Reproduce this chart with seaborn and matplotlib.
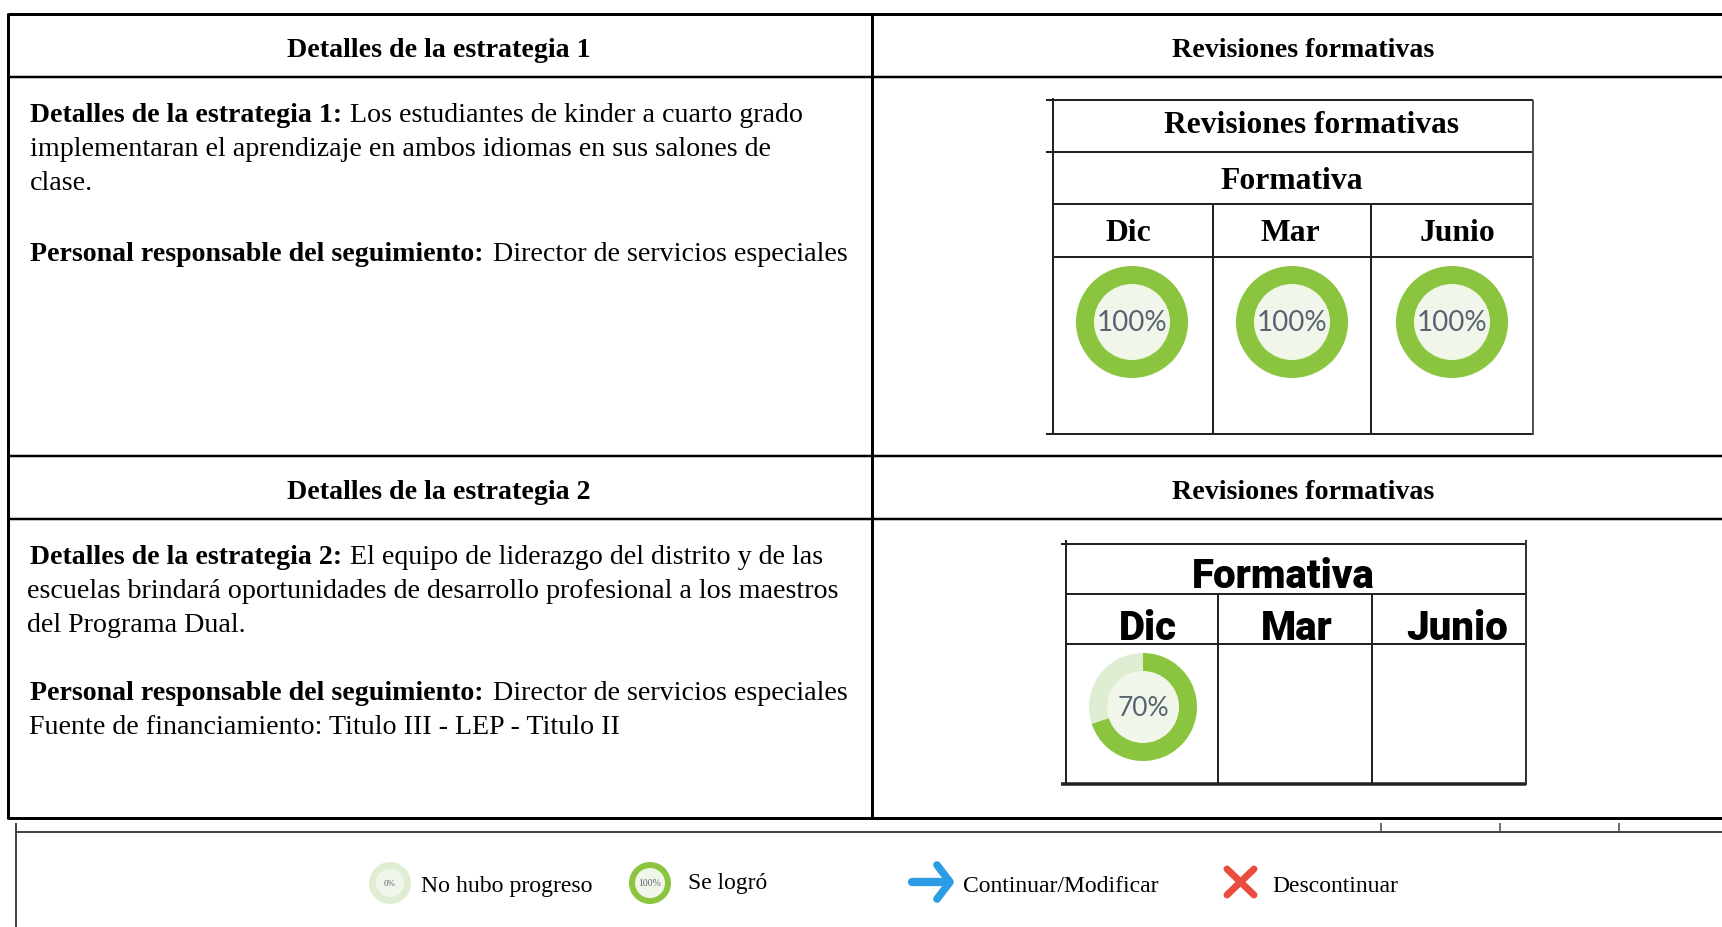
import matplotlib
matplotlib.use("Agg")
import matplotlib.pyplot as plt
import seaborn as sns

sns.set_theme(style="white")
plt.rcParams["font.family"] = ["Liberation Serif", "DejaVu Serif"]

# data
months = ["Dic", "Mar", "Junio"]
progress_1 = [100, 100, 100]
progress_2 = [70, None, None]
legend_progress = [0, 100]
legend_labels = ["No hubo progreso", "Se logró", "Continuar/Modificar", "Descontinuar"]
headers = ["Detalles de la estrategia 1", "Revisiones formativas",
           "Detalles de la estrategia 2", "Revisiones formativas"]

GREEN = "#8bc53f"
PALE = "#dfeed3"
INNER = "#f0f7ea"
W, H = 1722, 927

fig = plt.figure(figsize=(W / 100, H / 100), dpi=100)
ax = fig.add_axes([0, 0, 1, 1])


def hline(y, x0=8, x1=W, px=2.5, c="black"):
    ax.plot([x0, x1], [y, y], color=c, lw=px * 0.72, solid_capstyle="butt", zorder=3)


def vline(x, y0, y1, px=2.5, c="black"):
    ax.plot([x, x], [y0, y1], color=c, lw=px * 0.72, solid_capstyle="butt", zorder=3)


def donut(cx, cy, r_out, r_in, value, label, fs, family="Lato"):
    ax.pie([value, 100 - value], colors=[GREEN, PALE], center=(cx, cy), radius=r_out,
           startangle=-90, counterclock=True, wedgeprops={"linewidth": 0})
    circle = plt.Circle((cx, cy), r_in, color=INNER, lw=0, zorder=2)
    ax.add_patch(circle)
    ax.text(cx, cy + 1, label, ha="center", va="center", fontsize=fs, color="#5a6470",
            family=family, zorder=4)


def txt(x, y, s, fs=20.2, weight="normal", ha="left", family=None):
    ax.text(x, y, s, fontsize=fs, fontweight=weight, ha=ha, va="center_baseline",
            color="black", family=family or "Liberation Serif", zorder=4)


# outer table
for y in [14, 77, 456, 519, 818]:
    hline(y, px=3 if y in (14, 818) else 2.5)
vline(8, 13, 819, px=3)
vline(872, 13, 819, px=3)

txt(439, 47.5, headers[0], weight="bold", ha="center")
txt(1303, 47.5, headers[1], weight="bold", ha="center")
txt(439, 489.5, headers[2], weight="bold", ha="center")
txt(1303, 489.5, headers[3], weight="bold", ha="center")

# strategy 1 text
txt(30, 112, "Detalles de la estrategia 1:", fs=20.1, weight="bold")
txt(350, 112, "Los estudiantes de kinder a cuarto grado")
txt(30, 146, "implementaran el aprendizaje en ambos idiomas en sus salones de")
txt(30, 180, "clase.")
txt(30, 251, "Personal responsable del seguimiento:", fs=20.1, weight="bold")
txt(493, 251, "Director de servicios especiales")

# strategy 2 text
txt(30, 554.5, "Detalles de la estrategia 2:", fs=20.1, weight="bold")
txt(350, 554.5, "El equipo de liderazgo del distrito y de las")
txt(27, 588, "escuelas brindará oportunidades de desarrollo profesional a los maestros")
txt(27, 622, "del Programa Dual.")
txt(30, 691, "Personal responsable del seguimiento:", fs=20.1, weight="bold")
txt(493, 691, "Director de servicios especiales")
txt(29, 725, "Fuente de financiamiento: Titulo III - LEP - Titulo II")

# first small table
for y in [100, 152, 204, 257, 434]:
    hline(y, 1046 if y in (100, 152, 434) else 1053, 1533, px=2, c="#222222")
vline(1053, 98, 435, px=2, c="#222222")
vline(1533, 100, 435, px=2, c="#555555")
vline(1213, 204, 434, px=2, c="#222222")
vline(1371, 204, 434, px=2, c="#222222")
txt(1311, 122, "Revisiones formativas", fs=22.6, weight="bold", ha="center")
txt(1292, 178, "Formativa", fs=22.8, weight="bold", ha="center")
for x, m in zip([1128, 1290, 1457], months):
    txt(x, 230, m, fs=22.8, weight="bold", ha="center")
for x, v in zip([1132, 1292, 1452], progress_1):
    donut(x, 322, 56, 38, v, f"{v}%", 20)

# second small table
for y, px in [(544, 2), (594, 2), (644, 2), (784, 3.5)]:
    hline(y, 1061 if y in (544, 784) else 1066, 1526, px=px, c="#222222")
vline(1066, 540, 785, px=2, c="#222222")
vline(1526, 540, 785, px=2, c="#333333")
vline(1218, 594, 784, px=2, c="#222222")
vline(1372, 594, 784, px=2, c="#222222")
txt(1283, 573, "Formativa", fs=29, weight="black", ha="center", family="Roboto")
for x, m in zip([1148, 1297, 1457], months):
    txt(x, 624, m, fs=29, weight="black", ha="center", family="Roboto")
for x, v in zip([1143], progress_2):
    donut(x, 707, 54, 36, v, f"{v}%", 19)

# clipped table edge below
hline(832, 16, W, px=2, c="#444444")
vline(16, 823, H, px=2, c="#444444")
for x in [1380.5, 1500, 1619]:
    vline(x, 823, 832, px=1.5, c="#444444")

# legend
donut(390, 883, 21, 14, legend_progress[0], "0%", 6.5, family="Liberation Serif")
donut(650, 883, 21, 15, legend_progress[1], "100%", 7, family="Liberation Serif")
txt(421, 884, legend_labels[0], fs=17.1)
txt(688, 881, legend_labels[1], fs=16.9)
txt(963, 884, legend_labels[2], fs=17)
txt(1272, 884, legend_labels[3], fs=17)

# arrow and cross icons
ax.plot([912, 948], [882, 882], color="#2b9de4", lw=6, solid_capstyle="round", zorder=3)
ax.plot([937, 950, 937], [865, 882, 899], color="#2b9de4", lw=5.5, solid_capstyle="round",
        solid_joinstyle="round", zorder=3)
ax.plot([1227, 1254], [869, 895], color="#ea4c3d", lw=5, solid_capstyle="round", zorder=3)
ax.plot([1254, 1227], [869, 895], color="#ea4c3d", lw=5, solid_capstyle="round", zorder=3)

ax.set_xlim(0, W)
ax.set_ylim(H, 0)
ax.set_aspect("auto")
ax.axis("off")

fig.savefig("out.png", dpi=100, facecolor="white")
